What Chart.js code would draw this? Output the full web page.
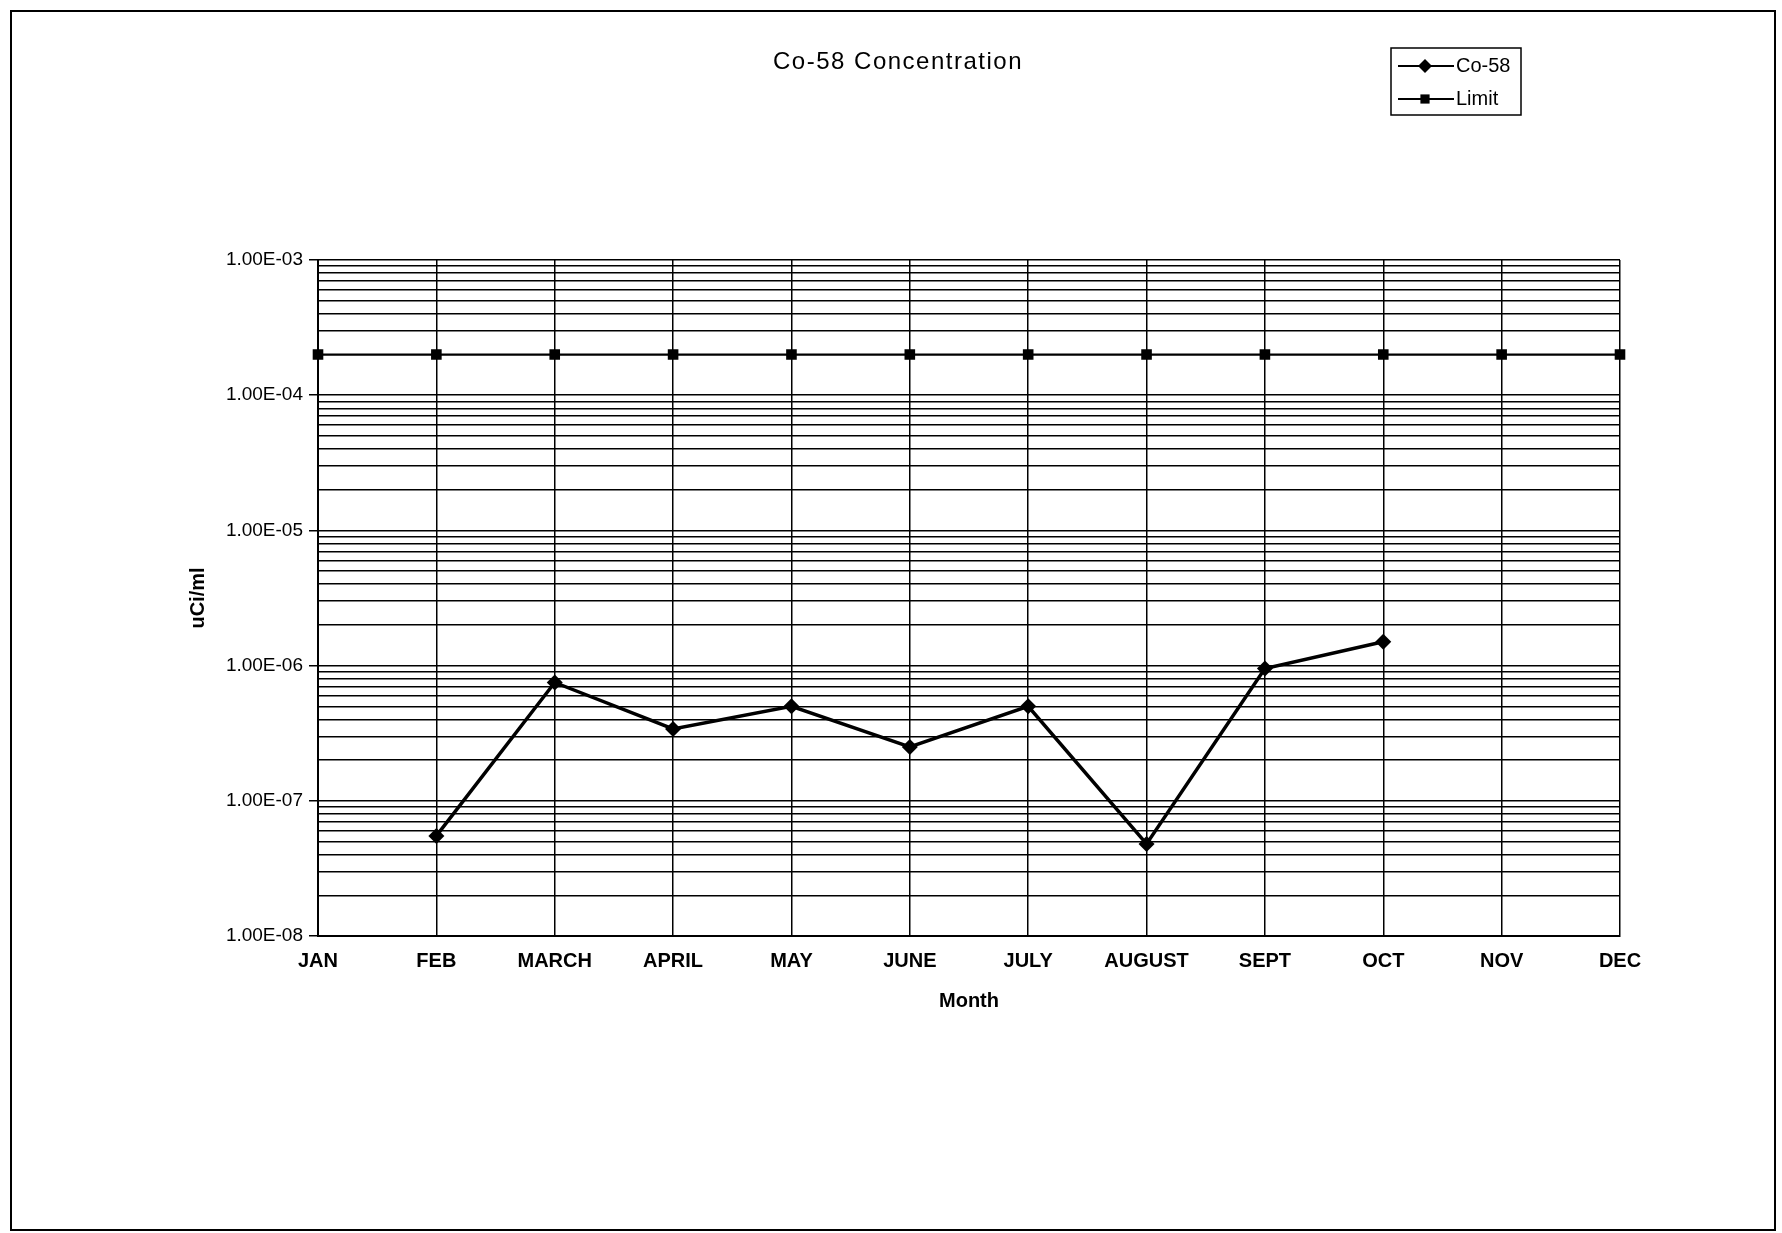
<!DOCTYPE html>
<html>
<head>
<meta charset="utf-8">
<script src="https://cdn.jsdelivr.net/npm/chart.js@4"></script>
<style>
  html, body { margin: 0; padding: 0; background: #fff; }
  #wrap { width: 1782px; height: 1233px; }
</style>
</head>
<body>
<div id="wrap"><canvas id="co58Chart" width="1782" height="1233"></canvas></div>
<script>
const MONTHS = ["JAN", "FEB", "MARCH", "APRIL", "MAY", "JUNE", "JULY", "AUGUST", "SEPT", "OCT", "NOV", "DEC"];
const CO58 = [null, 5.5e-8, 7.5e-7, 3.4e-7, 5.0e-7, 2.5e-7, 5.0e-7, 4.8e-8, 9.5e-7, 1.5e-6, null, null];
const LIMIT = [2e-4, 2e-4, 2e-4, 2e-4, 2e-4, 2e-4, 2e-4, 2e-4, 2e-4, 2e-4, 2e-4, 2e-4];
const DECADES = [-8, -7, -6, -5, -4, -3];
const SIGNIFICANDS = [1, 2, 3, 4, 5, 6, 7, 8, 9];

const FONT = "'Liberation Sans', Arial, sans-serif";

/* ---- helpers ---- */
function isDecade(v) {
  const e = Math.log10(v);
  return Math.abs(e - Math.round(e)) < 1e-6;
}

function fmtExp(v) {
  const e = Math.round(Math.log10(v));
  const m = v / Math.pow(10, e);
  const sign = e < 0 ? "-" : "+";
  const digits = String(Math.abs(e)).padStart(2, "0");
  return `${m.toFixed(2)}E${sign}${digits}`;
}

function logTicks() {
  const ticks = [];
  DECADES.forEach((d, i) => {
    const sigs = i === DECADES.length - 1 ? [1] : SIGNIFICANDS;
    sigs.forEach(s => ticks.push({ value: s * Math.pow(10, d) }));
  });
  return ticks;
}

/* ---- page frame, title + legend ---- */
const frameAndLegend = {
  id: "frameAndLegend",
  beforeDraw(chart) {
    const { ctx, width, height } = chart;
    ctx.save();
    ctx.fillStyle = "#fff";
    ctx.fillRect(0, 0, width, height);
    ctx.restore();
  },
  afterDraw(chart) {
    const { ctx } = chart;
    ctx.save();
    // outer frame
    ctx.strokeStyle = "#000";
    ctx.lineWidth = 2;
    ctx.strokeRect(11, 11, 1764, 1219);

    // title
    ctx.fillStyle = "#000";
    ctx.font = `24px ${FONT}`;
    ctx.letterSpacing = "1.5px";
    ctx.textAlign = "center";
    ctx.textBaseline = "middle";
    ctx.fillText("Co-58 Concentration", 898, 62);
    ctx.letterSpacing = "0px";

    // legend box
    ctx.lineWidth = 1.5;
    ctx.strokeRect(1391, 48, 130, 67);

    const rows = [
      { label: "Co-58", y: 66, ds: chart.data.datasets[0] },
      { label: "Limit", y: 99, ds: chart.data.datasets[1] }
    ];
    rows.forEach(r => {
      ctx.strokeStyle = "#000";
      ctx.lineWidth = 2;
      ctx.beginPath();
      ctx.moveTo(1398, r.y);
      ctx.lineTo(1454, r.y);
      ctx.stroke();
      ctx.fillStyle = "#000";
      Chart.helpers.drawPoint(ctx, {
        pointStyle: r.ds.pointStyle,
        radius: r.ds.pointRadius - 1,
        borderWidth: 0
      }, 1425, r.y);
      ctx.font = `20px ${FONT}`;
      ctx.textAlign = "left";
      ctx.textBaseline = "middle";
      ctx.fillText(r.label, 1456, r.y);
    });
    ctx.restore();
  }
};

/* ---- chart ---- */
new Chart(document.getElementById("co58Chart"), {
  type: "line",
  data: {
    labels: MONTHS,
    datasets: [
      {
        label: "Co-58",
        data: CO58,
        borderColor: "#000",
        backgroundColor: "#000",
        borderWidth: 3.5,
        pointStyle: "rectRot",
        pointRadius: 8,
        pointBorderWidth: 0,
        tension: 0
      },
      {
        label: "Limit",
        data: LIMIT,
        borderColor: "#000",
        backgroundColor: "#000",
        borderWidth: 2,
        pointStyle: "rect",
        pointRadius: 7.5,
        pointBorderWidth: 0,
        tension: 0
      }
    ]
  },
  options: {
    responsive: false,
    animation: false,
    devicePixelRatio: 1,
    layout: { padding: { left: 186, right: 162, top: 260, bottom: 220 } },
    plugins: {
      legend: { display: false },
      tooltip: { enabled: false },
      title: { display: false }
    },
    scales: {
      x: {
        type: "category",
        offset: false,
        border: { color: "#000", width: 2 },
        grid: {
          color: "#000",
          lineWidth: 1.5,
          drawTicks: false
        },
        ticks: {
          color: "#000",
          autoSkip: false,
          maxRotation: 0,
          padding: 13,
          font: { family: FONT, size: 20, weight: "bold" }
        },
        title: {
          display: true,
          text: "Month",
          color: "#000",
          font: { family: FONT, size: 20, weight: "bold" },
          padding: { top: 3, bottom: 0 }
        }
      },
      y: {
        type: "logarithmic",
        min: 1e-8,
        max: 1e-3,
        border: { color: "#000", width: 2 },
        grid: {
          color: "#000",
          lineWidth: 1.5,
          tickLength: 9,
          tickColor: ctx => (ctx.tick && isDecade(ctx.tick.value) ? "#000" : "rgba(0,0,0,0)")
        },
        afterBuildTicks(scale) { scale.ticks = logTicks(); },
        ticks: {
          color: "#000",
          autoSkip: false,
          padding: 6,
          font: { family: FONT, size: 19 },
          callback: v => (isDecade(v) ? fmtExp(v) : "")
        },
        title: {
          display: true,
          text: "uCi/ml",
          color: "#000",
          font: { family: FONT, size: 20, weight: "bold" },
          padding: { top: 0, bottom: 0 }
        },
        afterFit(scale) { scale.width = 132; }
      }
    }
  },
  plugins: [frameAndLegend]
});
</script>
</body>
</html>
